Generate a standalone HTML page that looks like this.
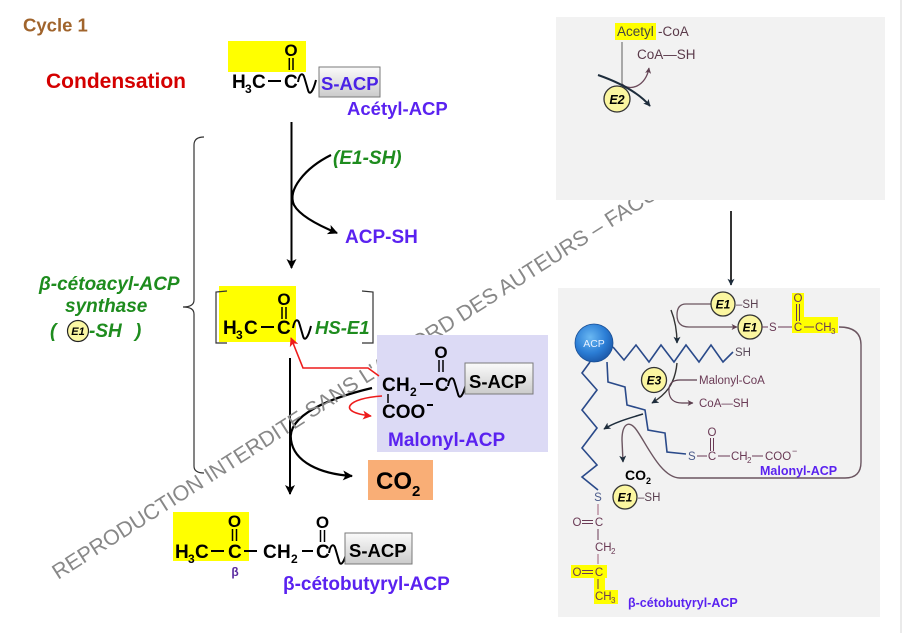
<!DOCTYPE html>
<html>
<head>
<meta charset="utf-8">
<style>
html,body{margin:0;padding:0;background:#fff;}
svg{display:block;}
text{font-family:"Liberation Sans",Arial,sans-serif;}
</style>
</head>
<body>
<svg width="904" height="633" viewBox="0 0 904 633" xmlns="http://www.w3.org/2000/svg">
<defs>
  <marker id="ab" markerUnits="userSpaceOnUse" markerWidth="10" markerHeight="10" viewBox="0 0 10 10" refX="9" refY="5" orient="auto">
    <path d="M0,0 L10,5 L0,10 L2.5,5 z" fill="#000"/>
  </marker>
  <marker id="ar" markerUnits="userSpaceOnUse" markerWidth="9" markerHeight="9" viewBox="0 0 10 10" refX="9" refY="5" orient="auto">
    <path d="M0,0 L10,5 L0,10 L2.5,5 z" fill="#ee1c1c"/>
  </marker>
  <marker id="as" markerUnits="userSpaceOnUse" markerWidth="7" markerHeight="7" viewBox="0 0 10 10" refX="9" refY="5" orient="auto">
    <path d="M0,0 L10,5 L0,10 L2.5,5 z" fill="#1e2d3c"/>
  </marker>
  <marker id="am" markerUnits="userSpaceOnUse" markerWidth="6" markerHeight="6" viewBox="0 0 10 10" refX="9" refY="5" orient="auto">
    <path d="M0,0 L10,5 L0,10 L2.5,5 z" fill="#5e4050"/>
  </marker>
  <linearGradient id="gb" x1="0" y1="0" x2="0" y2="1">
    <stop offset="0" stop-color="#fbfbfb"/>
    <stop offset="1" stop-color="#cbcbcb"/>
  </linearGradient>
  <radialGradient id="gacp" cx="0.4" cy="0.35" r="0.7">
    <stop offset="0" stop-color="#6ab8f2"/>
    <stop offset="0.6" stop-color="#2b7dd5"/>
    <stop offset="1" stop-color="#1a55a5"/>
  </radialGradient>
</defs>

<!-- ===== LEFT PART ===== -->
<text x="23" y="31.5" font-size="18.5" font-weight="bold" fill="#a0642c">Cycle 1</text>
<text x="46" y="88" font-size="21" font-weight="bold" fill="#d40000">Condensation</text>

<!-- Acetyl-ACP -->
<rect x="228" y="41" width="78" height="31" fill="#ffff00"/>
<text x="291" y="56" font-size="17" font-weight="bold" text-anchor="middle" fill="#000">O</text>
<line x1="289.3" y1="58" x2="289.3" y2="70" stroke="#000" stroke-width="1.5"/>
<line x1="293" y1="58" x2="293" y2="70" stroke="#000" stroke-width="1.5"/>
<text x="232" y="88" font-size="19" font-weight="bold">H</text>
<text x="245" y="93" font-size="12" font-weight="bold">3</text>
<text x="252" y="88" font-size="19" font-weight="bold">C</text>
<line x1="268" y1="81" x2="281" y2="81" stroke="#000" stroke-width="2"/>
<text x="284" y="88" font-size="19" font-weight="bold">C</text>
<path transform="translate(298,82)" d="M0,0 C1.5,-9 5,-10 6.5,-4 L10,8 C11.5,14 15,10 18,-2" fill="none" stroke="#000" stroke-width="2"/>
<rect x="319" y="67" width="61" height="30" fill="url(#gb)" stroke="#7a7a7a" stroke-width="1"/>
<text x="321" y="90" font-size="18.5" font-weight="bold" fill="#4a22e6">S-ACP</text>
<text x="347" y="115" font-size="18.5" font-weight="bold" fill="#5a22f0">Acétyl-ACP</text>

<!-- arrow 1 -->
<line x1="291.5" y1="122" x2="291.5" y2="268" stroke="#000" stroke-width="2" marker-end="url(#ab)"/>
<path d="M331,155 C305,168 287,190 294,205 C300,216 320,226 337,233" fill="none" stroke="#000" stroke-width="2.2" marker-end="url(#ab)"/>
<text x="333" y="164" font-size="19" font-weight="bold" font-style="italic" fill="#1e8c1e">(E1-SH)</text>
<text x="345" y="243" font-size="19" font-weight="bold" fill="#5a22f0">ACP-SH</text>

<!-- brace -->
<path d="M204,137 Q194,137 194,145 L194,300 Q194,307 183,307 Q194,307 194,314 L194,466 Q194,473 204,473" fill="none" stroke="#333" stroke-width="1.2"/>

<!-- enzyme label -->
<text x="39" y="290" font-size="19" font-weight="bold" font-style="italic" fill="#1e8c1e">β-cétoacyl-ACP</text>
<text x="65" y="312" font-size="19" font-weight="bold" font-style="italic" fill="#1e8c1e">synthase</text>
<text x="50" y="337" font-size="19" font-weight="bold" font-style="italic" fill="#1e8c1e">(</text>
<circle cx="78" cy="331" r="10.5" fill="#fbf7a4" stroke="#222" stroke-width="1.2"/>
<text x="78" y="335" font-size="11" font-weight="bold" font-style="italic" text-anchor="middle">E1</text>
<text x="89" y="337" font-size="19" font-weight="bold" font-style="italic" fill="#1e8c1e">-SH</text>
<text x="135" y="337" font-size="19" font-weight="bold" font-style="italic" fill="#1e8c1e">)</text>

<!-- intermediate -->
<rect x="219" y="286" width="77" height="56" fill="#ffff00"/>
<path d="M227,291 L216,292 L216,343 L227,343" fill="none" stroke="#333" stroke-width="1.2"/>
<path d="M362,291 L373,292 L373,343 L362,343" fill="none" stroke="#333" stroke-width="1.2"/>
<text x="284" y="305" font-size="17" font-weight="bold" text-anchor="middle">O</text>
<line x1="282" y1="307" x2="282" y2="319" stroke="#000" stroke-width="1.5"/>
<line x1="286" y1="307" x2="286" y2="319" stroke="#000" stroke-width="1.5"/>
<text x="223" y="334" font-size="19" font-weight="bold">H</text>
<text x="236" y="339" font-size="12" font-weight="bold">3</text>
<text x="244" y="334" font-size="19" font-weight="bold">C</text>
<line x1="261" y1="327" x2="274" y2="327" stroke="#000" stroke-width="2"/>
<text x="277" y="334" font-size="19" font-weight="bold">C</text>
<path transform="translate(293,328)" d="M0,0 C1.5,-9 5,-10 6.5,-4 L10,8 C11.5,14 15,10 18,-2" fill="none" stroke="#000" stroke-width="2"/>
<text x="315" y="334" font-size="18.5" font-weight="bold" font-style="italic" fill="#1e8c1e">HS-E1</text>

<!-- arrow 2 -->
<line x1="290" y1="358" x2="290" y2="494" stroke="#000" stroke-width="2" marker-end="url(#ab)"/>

<!-- CO2 box -->
<rect x="368" y="460" width="65" height="40" fill="#f9ae76"/>
<text x="376" y="489" font-size="24" font-weight="bold">CO</text>
<text x="412" y="496" font-size="15" font-weight="bold">2</text>

<!-- bottom product -->
<rect x="173" y="512" width="76" height="49" fill="#ffff00"/>
<text x="234.5" y="527" font-size="17" font-weight="bold" text-anchor="middle">O</text>
<line x1="232.5" y1="529" x2="232.5" y2="541" stroke="#000" stroke-width="1.5"/>
<line x1="236.5" y1="529" x2="236.5" y2="541" stroke="#000" stroke-width="1.5"/>
<text x="322.5" y="528" font-size="17" font-weight="bold" text-anchor="middle">O</text>
<line x1="320.5" y1="530" x2="320.5" y2="542" stroke="#000" stroke-width="1.5"/>
<line x1="324.5" y1="530" x2="324.5" y2="542" stroke="#000" stroke-width="1.5"/>
<text x="175" y="558" font-size="19" font-weight="bold">H</text>
<text x="188" y="563" font-size="12" font-weight="bold">3</text>
<text x="195" y="558" font-size="19" font-weight="bold">C</text>
<line x1="211" y1="551" x2="224" y2="551" stroke="#000" stroke-width="2"/>
<text x="228" y="558" font-size="19" font-weight="bold">C</text>
<line x1="244" y1="551" x2="257" y2="551" stroke="#000" stroke-width="2"/>
<text x="263" y="558" font-size="19" font-weight="bold">C</text>
<text x="277" y="558" font-size="19" font-weight="bold">H</text>
<text x="291" y="563" font-size="12" font-weight="bold">2</text>
<line x1="302" y1="551" x2="313" y2="551" stroke="#000" stroke-width="2"/>
<text x="316" y="558" font-size="19" font-weight="bold">C</text>
<text x="235" y="576" font-size="12" font-weight="bold" text-anchor="middle" fill="#5a2aa0">β</text>
<path transform="translate(329,553)" d="M0,0 C1.5,-9 5,-10 6.5,-4 L10,8 C11.5,14 15,10 18,-2" fill="none" stroke="#000" stroke-width="2"/>
<rect x="345" y="533" width="67" height="31" fill="url(#gb)" stroke="#7a7a7a" stroke-width="1"/>
<text x="349" y="557" font-size="18.5" font-weight="bold">S-ACP</text>
<text x="283" y="590" font-size="19" font-weight="bold" fill="#5a22f0">β-cétobutyryl-ACP</text>

<!-- black curve arrow (decarboxylation) -->
<path d="M372,388 C330,398 287,415 291,440 C294,462 320,474 352,476" fill="none" stroke="#000" stroke-width="2.2" marker-end="url(#ab)"/>

<!-- watermark -->
<text x="58" y="580" transform="rotate(-32.5 58 580)" font-size="21.5" fill="#888">REPRODUCTION INTERDITE SANS L'ACCORD DES AUTEURS – FACULTE</text>

<!-- malonyl box -->
<rect x="377" y="335" width="171" height="117" fill="#dcdaf5"/>
<text x="441" y="358" font-size="17" font-weight="bold" text-anchor="middle">O</text>
<line x1="439" y1="360" x2="439" y2="372" stroke="#000" stroke-width="1.5"/>
<line x1="443" y1="360" x2="443" y2="372" stroke="#000" stroke-width="1.5"/>
<text x="382" y="391" font-size="19" font-weight="bold">C</text>
<text x="396" y="391" font-size="19" font-weight="bold">H</text>
<text x="410" y="396" font-size="12" font-weight="bold">2</text>
<line x1="420" y1="384" x2="433" y2="384" stroke="#000" stroke-width="2"/>
<text x="435" y="391" font-size="19" font-weight="bold">C</text>
<path transform="translate(448,386)" d="M0,0 C1.5,-9 5,-10 6.5,-4 L10,8 C11.5,14 15,10 18,-2" fill="none" stroke="#000" stroke-width="2"/>
<rect x="465" y="363" width="68" height="31" fill="url(#gb)" stroke="#7a7a7a" stroke-width="1"/>
<text x="469" y="388" font-size="18.5" font-weight="bold">S-ACP</text>
<line x1="388" y1="394" x2="388" y2="403" stroke="#000" stroke-width="1.5"/>
<text x="382" y="418" font-size="19" font-weight="bold">COO</text>
<line x1="427" y1="405" x2="433" y2="405" stroke="#000" stroke-width="2"/>
<text x="388" y="446" font-size="19" font-weight="bold" fill="#5a22f0">Malonyl-ACP</text>

<!-- red arrows -->
<polyline points="379,376 368,368 303,368 291,338" fill="none" stroke="#ee1c1c" stroke-width="1.6" marker-end="url(#ar)"/>
<path d="M382,396 C348,398 335,412 371,416" fill="none" stroke="#ee1c1c" stroke-width="1.6" marker-end="url(#ar)"/>

<!-- ===== RIGHT PART ===== -->
<line x1="901" y1="0" x2="901" y2="633" stroke="#d4d4d4" stroke-width="1"/>

<!-- upper panel -->
<rect x="556" y="17" width="329" height="183" fill="#f2f2f2"/>
<rect x="615" y="23" width="41" height="17" fill="#ffff00"/>
<text x="617" y="36" font-size="13.5" fill="#444">Acetyl</text>
<text x="658" y="36" font-size="13.5" fill="#5a3a4a">-CoA</text>
<text x="637" y="59" font-size="13.5" fill="#5a3a4a">CoA—SH</text>
<line x1="622" y1="42" x2="622" y2="85" stroke="#777" stroke-width="1.2"/>
<path d="M622,84 C630,92 646,86 649,68" fill="none" stroke="#6b4a5a" stroke-width="1.3" marker-end="url(#am)"/>
<path d="M598,75 C618,82 638,92 650,106" fill="none" stroke="#1e2d3c" stroke-width="2" marker-end="url(#as)"/>
<circle cx="617" cy="99" r="13" fill="#fbf6a0" stroke="#333" stroke-width="1.3"/>
<text x="617" y="104" font-size="12.5" font-weight="bold" font-style="italic" text-anchor="middle">E2</text>

<!-- arrow between panels -->
<line x1="731" y1="211" x2="731" y2="285" stroke="#000" stroke-width="1.6" marker-end="url(#as)"/>

<!-- lower panel -->
<rect x="558" y="288" width="322" height="329" fill="#f2f2f2"/>

<!-- loop line -->
<path d="M839,327 Q861,327 861,345 L861,462 Q861,478 845,478 L680,478 C660,478 645,440 635,428 C628,420 622,425 622,440 L623,462" fill="none" stroke="#6b5560" stroke-width="1.4" marker-end="url(#as)"/>

<!-- E1 bracket arrow -->
<path d="M711,304 L686,304 Q677,304 677,315 Q677,327 689,327 L737,327" fill="none" stroke="#6b5560" stroke-width="1.3" marker-end="url(#am)"/>
<path d="M671,310 C675,320 677,330 677,343" fill="none" stroke="#333" stroke-width="1.4" marker-end="url(#as)"/>

<!-- E1 top -->
<circle cx="723" cy="304" r="12" fill="#fbf6a0" stroke="#333" stroke-width="1.3"/>
<text x="723" y="308.5" font-size="12" font-weight="bold" font-style="italic" text-anchor="middle">E1</text>
<text x="736" y="308" font-size="11.5" fill="#5a4050">–SH</text>

<!-- E1 second with acetyl -->
<rect x="792" y="293" width="12" height="25" fill="#ffff00"/>
<rect x="792" y="317" width="46" height="16" fill="#ffff00"/>
<circle cx="750" cy="327" r="12" fill="#fbf6a0" stroke="#333" stroke-width="1.3"/>
<text x="750" y="331.5" font-size="12" font-weight="bold" font-style="italic" text-anchor="middle">E1</text>
<line x1="762" y1="327" x2="768" y2="327" stroke="#6a3a55" stroke-width="1"/>
<text x="769" y="331" font-size="11.5" fill="#6a3a55">S</text>
<line x1="778" y1="327" x2="792" y2="327" stroke="#6a3a55" stroke-width="1"/>
<text x="798" y="331" font-size="11.5" text-anchor="middle" fill="#6a3a55">C</text>
<text x="798" y="302" font-size="11.5" text-anchor="middle" fill="#6a3a55">O</text>
<line x1="796.5" y1="304" x2="796.5" y2="321" stroke="#6a3a55" stroke-width="1"/>
<line x1="799.5" y1="304" x2="799.5" y2="321" stroke="#6a3a55" stroke-width="1"/>
<line x1="804" y1="327" x2="814" y2="327" stroke="#6a3a55" stroke-width="1"/>
<text x="815" y="331" font-size="11.5" fill="#6a3a55">CH</text>
<text x="831" y="334" font-size="8" fill="#6a3a55">3</text>

<!-- ACP & chains -->
<polyline points="613,347 624,360 636,345 649,362 661,345 674,362 686,345 699,362 711,345 723,362 733,352" fill="none" stroke="#2a4a8a" stroke-width="1.6"/>
<text x="735" y="356" font-size="11.5" fill="#5a4a5a">SH</text>
<polyline points="590,362 582,373 597,390 582,410 597,428 582,448 597,465 582,477 598,490" fill="none" stroke="#2a4a8a" stroke-width="1.6"/>
<polyline points="607,362 608,382 625,387 627,405 645,410 648,430 665,433 667,452 686,454" fill="none" stroke="#2a4a8a" stroke-width="1.6"/>
<circle cx="594" cy="343" r="19" fill="url(#gacp)" stroke="#1a4f95" stroke-width="0.8"/>
<text x="594" y="347" font-size="10.5" text-anchor="middle" fill="#e8f0ff">ACP</text>

<!-- E3 -->
<circle cx="654" cy="380" r="12.5" fill="#fbf6a0" stroke="#333" stroke-width="1.3"/>
<text x="654" y="384.5" font-size="12" font-weight="bold" font-style="italic" text-anchor="middle">E3</text>
<path d="M677,363 C675,385 665,395 652,403" fill="none" stroke="#333" stroke-width="1.4" marker-end="url(#as)"/>
<path d="M697,380 L680,380 Q668,380 669,392 Q670,403 682,403 L693,403" fill="none" stroke="#5e4050" stroke-width="1.2" marker-end="url(#am)"/>
<text x="699" y="384" font-size="11.5" fill="#6a3a55">Malonyl-CoA</text>
<text x="699" y="407" font-size="11.5" fill="#6a3a55">CoA—SH</text>
<path d="M643,414 C630,418 615,422 604,429" fill="none" stroke="#1e2d3c" stroke-width="1.5" marker-end="url(#as)"/>

<!-- malonyl-ACP (right) -->
<text x="688" y="460" font-size="11.5" fill="#4a5a8a">S</text>
<line x1="697" y1="456" x2="707" y2="456" stroke="#6a3a55" stroke-width="1"/>
<text x="712" y="460" font-size="11.5" text-anchor="middle" fill="#6a3a55">C</text>
<text x="712" y="436" font-size="11.5" text-anchor="middle" fill="#6a3a55">O</text>
<line x1="710.5" y1="438" x2="710.5" y2="451" stroke="#6a3a55" stroke-width="1"/>
<line x1="713.5" y1="438" x2="713.5" y2="451" stroke="#6a3a55" stroke-width="1"/>
<line x1="718" y1="456" x2="730" y2="456" stroke="#6a3a55" stroke-width="1"/>
<text x="731" y="460" font-size="11.5" fill="#6a3a55">CH</text>
<text x="747" y="463" font-size="8" fill="#6a3a55">2</text>
<line x1="752" y1="456" x2="763" y2="456" stroke="#6a3a55" stroke-width="1"/>
<text x="765" y="460" font-size="11.5" fill="#6a3a55">COO</text>
<text x="792" y="454" font-size="9" fill="#6a3a55">−</text>
<text x="760" y="475" font-size="12.5" font-weight="bold" fill="#5a22f0">Malonyl-ACP</text>

<!-- CO2 & E1 bottom -->
<text x="625" y="480" font-size="14" font-weight="bold">CO</text>
<text x="646" y="484" font-size="9" font-weight="bold">2</text>
<circle cx="625" cy="497" r="12" fill="#fbf6a0" stroke="#333" stroke-width="1.3"/>
<text x="625" y="501.5" font-size="12" font-weight="bold" font-style="italic" text-anchor="middle">E1</text>
<text x="638" y="501" font-size="11.5" fill="#5a4050">–SH</text>

<!-- product chain (right) -->
<text x="598" y="501" font-size="11.5" text-anchor="middle" fill="#4a5a8a">S</text>
<line x1="598" y1="504" x2="598" y2="515" stroke="#a0607a" stroke-width="1"/>
<text x="577" y="526" font-size="11.5" text-anchor="middle" fill="#6a3a55">O</text>
<line x1="582" y1="520.5" x2="593" y2="520.5" stroke="#6a3a55" stroke-width="1"/>
<line x1="582" y1="523.5" x2="593" y2="523.5" stroke="#6a3a55" stroke-width="1"/>
<text x="599" y="526" font-size="11.5" text-anchor="middle" fill="#6a3a55">C</text>
<line x1="598" y1="529" x2="598" y2="540" stroke="#6a3a55" stroke-width="1"/>
<text x="595" y="551" font-size="11.5" fill="#6a3a55">CH</text>
<text x="611" y="554" font-size="8" fill="#6a3a55">2</text>
<line x1="598" y1="554" x2="598" y2="564" stroke="#a0607a" stroke-width="1"/>
<rect x="571" y="565" width="36" height="13" fill="#ffff00"/>
<rect x="594" y="577" width="11" height="14" fill="#ffff00"/>
<rect x="594" y="590" width="24" height="14" fill="#ffff00"/>
<text x="577" y="576" font-size="11.5" text-anchor="middle" fill="#6a3a55">O</text>
<line x1="582" y1="570.5" x2="593" y2="570.5" stroke="#6a3a55" stroke-width="1"/>
<line x1="582" y1="573.5" x2="593" y2="573.5" stroke="#6a3a55" stroke-width="1"/>
<text x="599" y="576" font-size="11.5" text-anchor="middle" fill="#6a3a55">C</text>
<line x1="598" y1="579" x2="598" y2="589" stroke="#6a3a55" stroke-width="1"/>
<text x="595" y="600" font-size="11.5" fill="#6a3a55">CH</text>
<text x="611" y="603" font-size="8" fill="#6a3a55">3</text>
<text x="628" y="607" font-size="12.5" font-weight="bold" fill="#5a22f0">β-cétobutyryl-ACP</text>
</svg>
</body>
</html>
